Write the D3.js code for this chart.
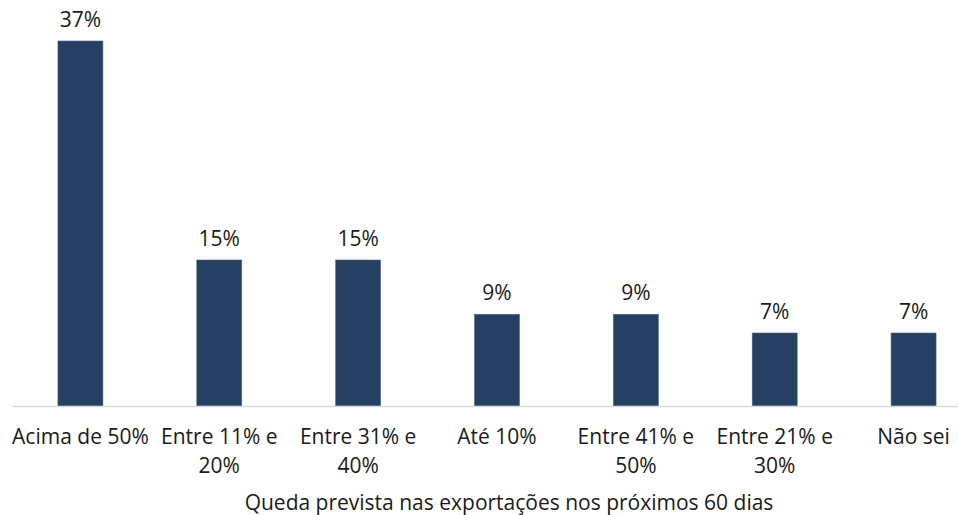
<!DOCTYPE html>
<html>
<head>
<meta charset="utf-8">
<script src="https://cdn.jsdelivr.net/npm/d3@7"></script>
<style>
  body { margin: 0; background: #fff; }
  svg { display: block; }
</style>
</head>
<body>
<div id="chart"></div>
<script>
const categories = ['Acima de 50%', 'Entre 11% e 20%', 'Entre 31% e 40%', 'Até 10%', 'Entre 41% e 50%', 'Entre 21% e 30%', 'Não sei']
const labelLines = [['Acima de 50%'], ['Entre 11% e', '20%'], ['Entre 31% e', '40%'], ['Até 10%'], ['Entre 41% e', '50%'], ['Entre 21% e', '30%'], ['Não sei']]
const values = [37.0, 14.8, 14.8, 9.3, 9.3, 7.4, 7.4]
const valueLabels = ['37%', '15%', '15%', '9%', '9%', '7%', '7%']
const axisTitle = 'Queda prevista nas exportações nos próximos 60 dias'

const width = 958, height = 515
const font = '"Open Sans", "Noto Sans", sans-serif'

const svg = d3.select('#chart').append('svg')
    .attr('width', width)
    .attr('height', height)

const x = d3.scaleBand()
    .domain(categories)
    .range([11, 983])
    .paddingInner(0.676)
    .paddingOuter(0.338)

const y = d3.scaleLinear()
    .domain([0, 37])
    .range([406, 41])

// bars
svg.selectAll('rect.bar')
    .data(values)
    .enter()
    .append('rect')
    .attr('class', 'bar')
    .attr('x', (d, i) => x(categories[i]))
    .attr('y', d => y(d))
    .attr('width', x.bandwidth())
    .attr('height', d => y(0) - y(d))
    .attr('fill', '#254061')
    .attr('stroke', '#4f6889')
    .attr('stroke-width', 0.6)

// data labels
svg.selectAll('text.value')
    .data(values)
    .enter()
    .append('text')
    .attr('class', 'value')
    .attr('x', (d, i) => x(categories[i]) + x.bandwidth() / 2)
    .attr('y', d => y(d) - 14)
    .attr('text-anchor', 'middle')
    .style('font', '21px ' + font)
    .attr('fill', '#1a1a1a')
    .text((d, i) => valueLabels[i])

// category axis
const xaxis = d3.axisBottom(x).tickSize(0).tickFormat('')
const gx = svg.append('g')
    .attr('transform', 'translate(0,' + y(0) + ')')
    .call(xaxis)
gx.select('.domain').attr('stroke', '#d9d9d9').attr('stroke-width', 1.5)

categories.forEach((c, i) => {
    const t = svg.append('text')
        .attr('text-anchor', 'middle')
        .attr('fill', '#1a1a1a')
        .style('font', '21px ' + font)
    labelLines[i].forEach((line, j) => {
        t.append('tspan')
            .attr('x', x(c) + x.bandwidth() / 2)
            .attr('y', 444 + j * 29)
            .text(line)
    })
})

// axis title
svg.append('text')
    .attr('x', 509)
    .attr('y', 510)
    .attr('text-anchor', 'middle')
    .attr('fill', '#1a1a1a')
    .style('font', '21px ' + font)
    .text(axisTitle)
</script>
</body>
</html>
